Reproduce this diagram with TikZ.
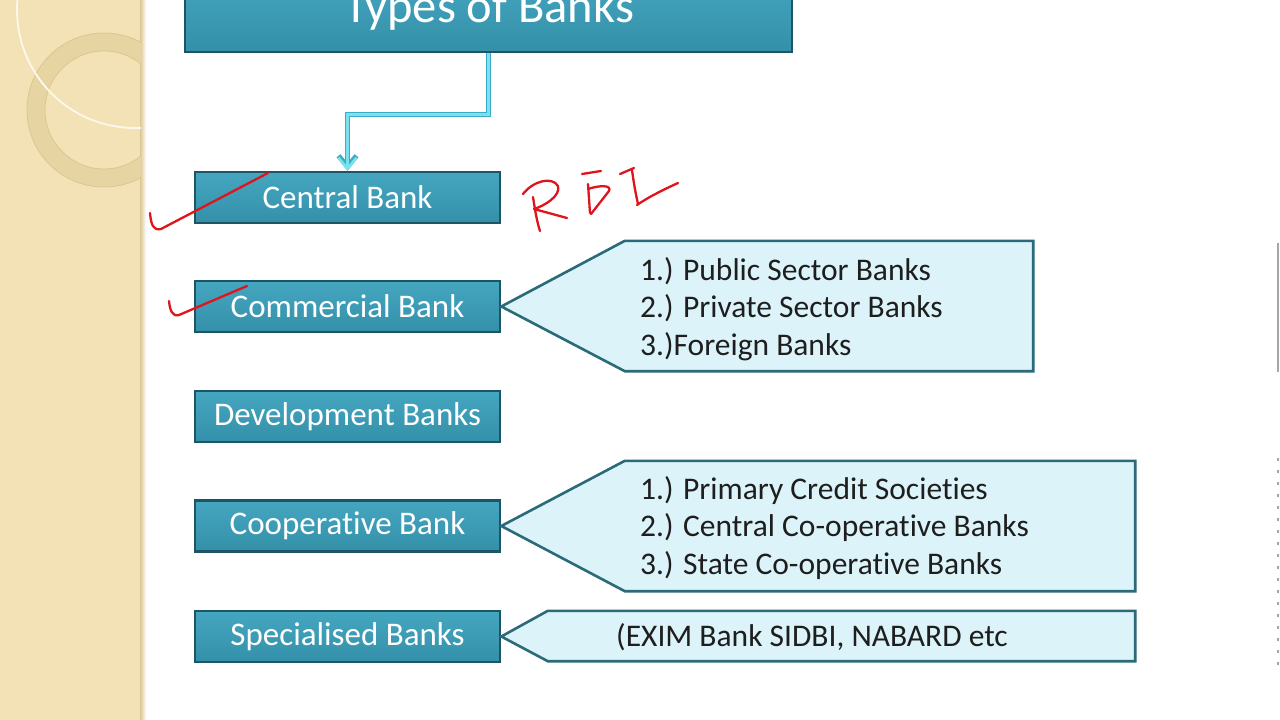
\documentclass[tikz,border=0pt]{standalone}
\usepackage{fontspec}
\setmainfont[Ligatures=NoCommon]{Carlito}
\usetikzlibrary{arrows.meta,calc}
\definecolor{stripcol}{HTML}{F2E2B6}
\definecolor{ringcol}{HTML}{E7D4A3}
\definecolor{ringedge}{HTML}{DCC690}
\definecolor{boxtop}{HTML}{45A6C0}
\definecolor{boxbot}{HTML}{3490A9}
\definecolor{boxedge}{HTML}{1D5564}
\definecolor{callfill}{HTML}{DCF4F9}
\definecolor{calledge}{HTML}{2B6A79}
\definecolor{connlight}{HTML}{7BE0F0}
\definecolor{connedge}{HTML}{3AACC3}
\definecolor{inkred}{HTML}{E0141C}
\definecolor{calltextcol}{HTML}{1E1E1E}
\begin{document}
\begin{tikzpicture}[x=1pt,y=-1pt,
  bankbox/.style={draw=boxedge, line width=2.6pt, top color=boxtop, bottom color=boxbot,
    minimum width=305pt, minimum height=51pt, inner sep=0pt, text=white,
    font=\fontsize{33}{38}\selectfont},
  calloutrect/.style={inner sep=0pt},
  callout/.style={draw=calledge, line width=2.6pt, fill=callfill, line join=miter},
  calltext/.style={align=left, text=calltextcol, inner sep=0pt,
    font=\fontsize{31.5}{37.5}\selectfont},
  redink/.style={draw=inkred, line width=2.3pt, line cap=round, line join=round},
  connline/.style={draw=connlight, line width=2.6pt, -{Straight Barb[length=11pt,width=18pt]}},
  connback/.style={draw=connedge, line width=5pt, -{Straight Barb[length=11pt,width=18pt]}}
]
\useasboundingbox (0,0) rectangle (1280,720);
\clip (0,0) rectangle (1280,720);
\fill[white] (0,0) rectangle (1280,720);

% left decorative strip
\fill[stripcol] (0,0) rectangle (142,720);
\shade[left color=ringedge, right color=white] (140,0) rectangle (146,720);
\begin{scope}
  \clip (0,0) rectangle (141,720);
  \draw[ringcol, line width=18pt] (104,110) circle[radius=68];
  \draw[ringedge, line width=0.8pt] (104,110) circle[radius=59];
  \draw[ringedge, line width=0.8pt] (104,110) circle[radius=77];
  \draw[white!75!stripcol, line width=1.8pt] (135,10) circle[radius=118];
\end{scope}

% title
\node[bankbox, minimum width=607pt, minimum height=80pt] (title) at (488.5,12) {};
\node[text=white, anchor=base, inner sep=0pt, font=\fontsize{48.5}{52}\selectfont] (titletext) at (489,22) {Types of Banks};

% left boxes
\node[bankbox] (central) at (347.5,197.5) {Central Bank};
\node[bankbox] (commercial) at (347.5,306.5) {Commercial Bank};
\node[bankbox] (development) at (347.5,416.5) {Development Banks};
\node[bankbox] (cooperative) at (347.5,526) {Cooperative Bank};
\node[bankbox] (specialised) at (347.5,636.5) {Specialised Banks};

% connector
\draw[connback] (title.south) -- ++(0,61) -| (central.north);
\draw[connline] (title.south) -- ++(0,61) -| (central.north);

% callout areas
\node[calloutrect, minimum width=408pt, minimum height=130pt] (pubbox) at (829,306) {};
\node[calloutrect, minimum width=510pt, minimum height=130pt] (coopbox) at (880,526) {};
\node[calloutrect, minimum width=587pt, minimum height=50pt] (specbox) at (841.5,636) {};

\draw[callout] (commercial.east) -- (pubbox.north west) -- (pubbox.north east) -- (pubbox.south east) -- (pubbox.south west) -- cycle;
\draw[callout] (cooperative.east) -- (coopbox.north west) -- (coopbox.north east) -- (coopbox.south east) -- (coopbox.south west) -- cycle;
\draw[callout] (specialised.east) -- (specbox.north west) -- (specbox.north east) -- (specbox.south east) -- (specbox.south west) -- cycle;

\node[calltext, anchor=west] (pubtext) at (640,309) {1.) Public Sector Banks\\2.) Private Sector Banks\\3.)Foreign Banks};
\node[calltext, anchor=west] (cooptext) at (640,528) {1.) Primary Credit Societies\\2.) Central Co-operative Banks\\3.) State Co-operative Banks};
\node[calltext] (spectext) at (812,637) {(EXIM Bank SIDBI, NABARD etc};

% red handwriting
\draw[redink] (150,213) .. controls (151,224) and (153,231) .. (161,229) -- (268,173);
\draw[redink] (169,301) .. controls (170,310) and (172,317) .. (179,315) -- (247,286);
% R
\draw[redink] (523,194) .. controls (533,181) and (552,176) .. (558,186) .. controls (561,196) and (544,206) .. (534,209) -- (567,218);
\draw[redink] (533,197) .. controls (535,210) and (537,222) .. (540,231);
% B
\draw[redink] (582,174) -- (601,171);
\draw[redink] (588,184) -- (590,213);
\draw[redink] (588,189) .. controls (600,185) and (612,185) .. (609,191) -- (591,214);
% I
\draw[redink] (620,174) -- (634,168);
\draw[redink] (632,170) .. controls (634,185) and (636,195) .. (638,204);
\draw[redink] (637,205) .. controls (650,196) and (665,189) .. (678,183);

% right edge marks
\draw[gray!70, line width=1.5pt] (1278,243) -- (1278,372);
\draw[gray!70, line width=1.5pt, dash pattern=on 3pt off 9pt] (1278,458) -- (1278,665);
\end{tikzpicture}
\end{document}
